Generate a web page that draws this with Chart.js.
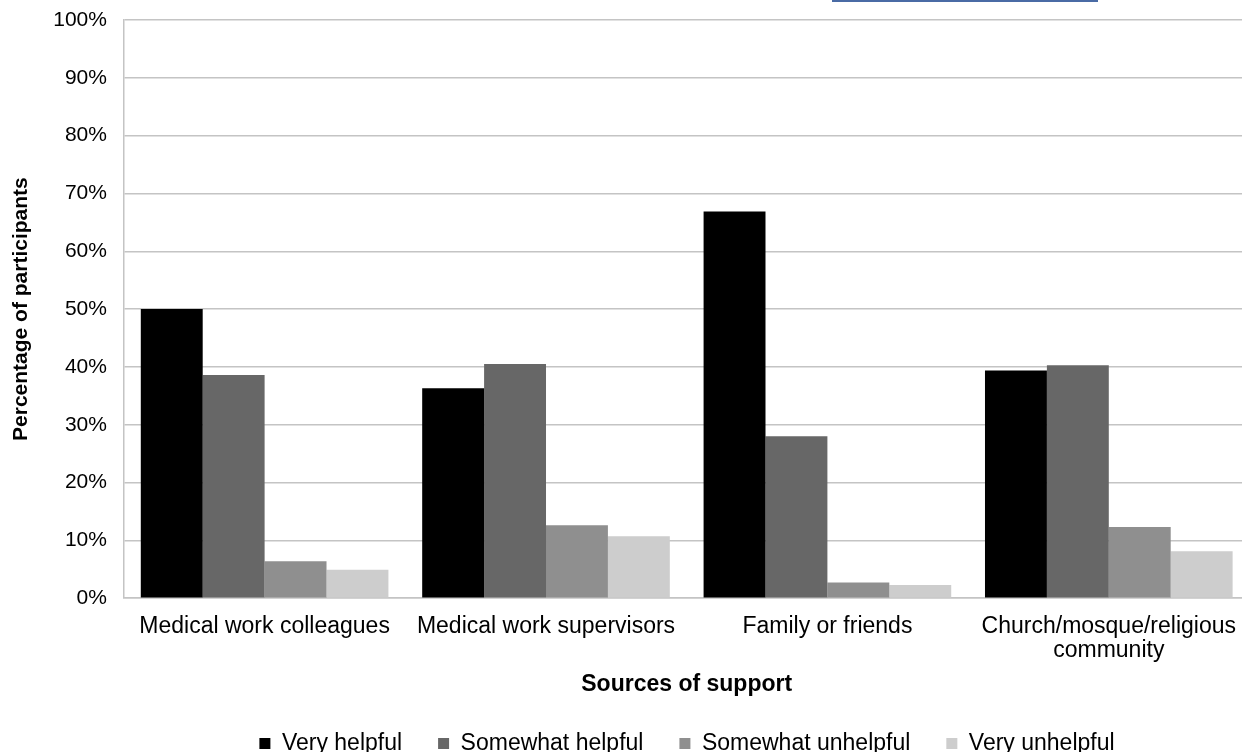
<!DOCTYPE html>
<html>
<head>
<meta charset="utf-8">
<script src="https://cdn.jsdelivr.net/npm/chart.js@4"></script>
<style>
  html, body { margin: 0; padding: 0; background: #ffffff; overflow: hidden; }
  #wrap { position: relative; width: 1252px; height: 768px; }
  #link { position: absolute; left: 832px; top: 0; width: 266px; height: 2px; background: #4a6ba5; z-index: 2; }
</style>
</head>
<body>
<div id="wrap">
  <div id="link"></div>
  <canvas id="chart"></canvas>
</div>
<script>
// Sources of support and how helpful participants found them (percent of participants)
const categories = [
  'Medical work colleagues',
  'Medical work supervisors',
  'Family or friends',
  ['Church/mosque/religious', 'community']
];
const seriesNames = ['Very helpful', 'Somewhat helpful', 'Somewhat unhelpful', 'Very unhelpful'];
const veryHelpful = [50.0, 36.3, 66.9, 39.4];
const somewhatHelpful = [38.6, 40.5, 28.0, 40.3];
const somewhatUnhelpful = [6.4, 12.6, 2.7, 12.3];
const veryUnhelpful = [4.9, 10.7, 2.3, 8.1];
const yTicks = [0, 10, 20, 30, 40, 50, 60, 70, 80, 90, 100];

const colors = ['#000000', '#676767', '#8f8f8f', '#cdcdcd'];
const seriesValues = [veryHelpful, somewhatHelpful, somewhatUnhelpful, veryUnhelpful];
const FONT = '"Liberation Sans", Arial, Helvetica, sans-serif';
const gridColor = '#c4c4c4';

// Nudge the legend so it sits where the figure places it
const legendShift = {
  id: 'legendShift',
  afterLayout(chart) {
    const lg = chart.legend;
    if (lg) {
      lg.left += 58.5; lg.right += 58.5;
      lg.top -= 3; lg.bottom -= 3;
    }
  }
};

new Chart(document.getElementById('chart'), {
  type: 'bar',
  data: {
    labels: categories,
    datasets: seriesNames.map((name, i) => ({
      label: name,
      data: seriesValues[i],
      backgroundColor: colors[i],
      borderWidth: 0,
      categoryPercentage: 0.88,
      barPercentage: 1.0
    }))
  },
  options: {
    responsive: true,
    maintainAspectRatio: false,
    animation: false,
    layout: { padding: { top: 20, left: 5, right: 0, bottom: 0 } },
    plugins: {
      tooltip: { enabled: false },
      legend: {
        position: 'bottom',
        labels: {
          boxWidth: 11,
          boxHeight: 11,
          padding: 36,
          color: '#000000',
          font: { family: FONT, size: 23 }
        }
      }
    },
    scales: {
      x: {
        grid: { display: false, drawTicks: false },
        border: { display: true, color: gridColor, width: 1.5 },
        ticks: { color: '#000000', padding: 16, maxRotation: 0, autoSkip: false, font: { family: FONT, size: 23, lineHeight: 1.07 } },
        title: {
          display: true,
          text: 'Sources of support',
          color: '#000000',
          font: { family: FONT, size: 23, weight: 'bold' },
          padding: { top: -9, bottom: 1 }
        }
      },
      y: {
        min: 0,
        max: 100,
        afterBuildTicks(axis) { axis.ticks = yTicks.map(v => ({ value: v })); },
        afterFit(axis) { axis.paddingTop = 0; axis.paddingBottom = 0; },
        grid: { color: gridColor, lineWidth: 1.5, drawTicks: false },
        border: { display: true, color: gridColor, width: 1.5 },
        ticks: {
          color: '#000000',
          padding: 17,
          font: { family: FONT, size: 21 },
          callback: v => v + '%'
        },
        title: {
          display: true,
          text: 'Percentage of participants',
          color: '#000000',
          font: { family: FONT, size: 21, weight: 'bold' },
          padding: { top: 4, bottom: 2 }
        }
      }
    }
  },
  plugins: [legendShift]
});
</script>
</body>
</html>
